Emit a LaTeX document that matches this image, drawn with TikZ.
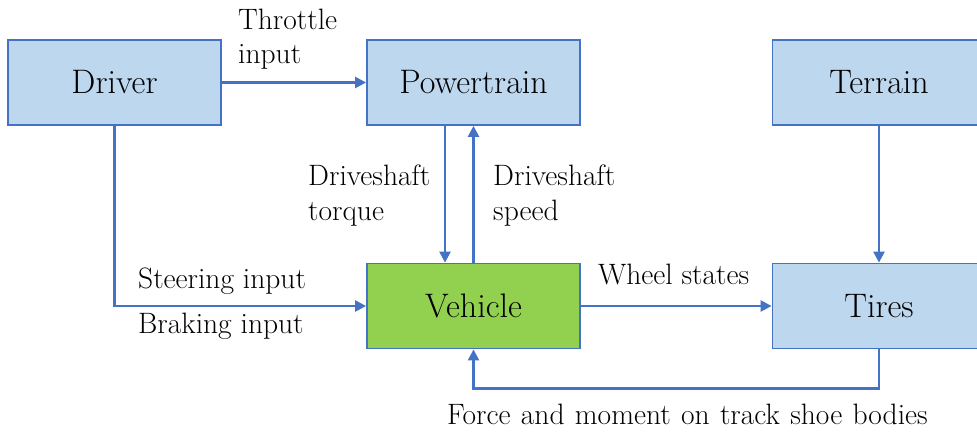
\documentclass[tikz,border=0pt]{standalone}
\usetikzlibrary{arrows.meta}
\definecolor{boxblue}{HTML}{BDD7EE}
\definecolor{edgeblue}{HTML}{4472C4}
\definecolor{vehgreen}{HTML}{92D050}
\begin{document}
\begin{tikzpicture}[x=1pt,y=-1pt,
  block/.style={draw=edgeblue, line width=1.8pt, minimum width=213pt,
    minimum height=85pt, inner sep=0pt, font=\fontsize{34}{40}\selectfont},
  link/.style={draw=edgeblue, line width=2.4pt,
    -{Triangle[length=11pt,width=11pt]}},
  lbl/.style={font=\fontsize{29.5}{35}\selectfont, anchor=base west, inner sep=0pt}]
\useasboundingbox (0,0) rectangle (977,434);
\clip (0,0) rectangle (977,434);

% blocks
\node[block, fill=boxblue]  (driver)  at (114.5,82.5) {Driver};
\node[block, fill=boxblue]  (power)   at (473.5,82.5) {Powertrain};
\node[block, fill=boxblue]  (terrain) at (879,82.5)   {Terrain};
\node[block, fill=vehgreen] (vehicle) at (473.5,306)  {Vehicle};
\node[block, fill=boxblue]  (tires)   at (879,306)    {Tires};

% signal flow
\draw[link] (driver.east) -- (power.west);
\draw[link] (driver.south) |- (vehicle.west);
\draw[link] ([xshift=-28.5pt]power.south) -- ([xshift=-28.5pt]vehicle.north);
\draw[link] (vehicle.north) -- (power.south);
\draw[link] (vehicle.east) -- (tires.west);
\draw[link] (terrain.south) -- (tires.north);
\draw[link] (tires.south) -- ++(0,39) -| (vehicle.south);

% signal names
\node[lbl] (thr1) at (238,29)  {Throttle};
\node[lbl] (thr2) at (238,63)  {input};
\node[lbl] (dt1)  at (308,185) {Driveshaft};
\node[lbl] (dt2)  at (308,220) {torque};
\node[lbl] (ds1)  at (493,185) {Driveshaft};
\node[lbl] (ds2)  at (493,220) {speed};
\node[lbl] (steer) at (138,288) {Steering\hspace{0.3em}input};
\node[lbl] (brake) at (138,333) {Braking\hspace{0.3em}input};
\node[lbl] (wheel) at (598,284) {Wheel\hspace{0.3em}states};
\node[lbl] (force) at (447,424) {Force\hspace{0.35em}and\hspace{0.35em}moment\hspace{0.35em}on\hspace{0.35em}track\hspace{0.35em}shoe\hspace{0.35em}bodies};
\end{tikzpicture}
\end{document}
